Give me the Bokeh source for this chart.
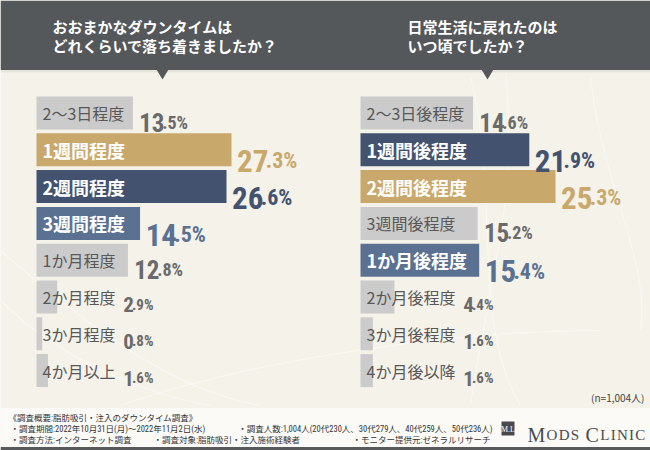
from bokeh.plotting import figure
from bokeh.models import ColumnDataSource, Range1d
from bokeh.core.properties import value
from bokeh.embed import file_html
from bokeh.resources import INLINE

# ---------------- data ----------------
left_title = ["おおまかなダウンタイムは", "どれくらいで落ち着きましたか？"]
left_categories = ["2～3日程度", "1週間程度", "2週間程度", "3週間程度",
                   "1か月程度", "2か月程度", "3か月程度", "4か月以上"]
left_values = [13.5, 27.3, 26.6, 14.5, 12.8, 2.9, 0.8, 1.6]

right_title = ["日常生活に戻れたのは", "いつ頃でしたか？"]
right_categories = ["2～3日後程度", "1週間後程度", "2週間後程度", "3週間後程度",
                    "1か月後程度", "2か月後程度", "3か月後程度", "4か月後以降"]
right_values = [14.6, 21.9, 25.3, 15.2, 15.4, 4.4, 1.6, 1.6]

sample_note = "(n=1,004人)"
survey_heading = "《調査概要:脂肪吸引・注入のダウンタイム調査》"
survey_row1 = ["・調査期間:2022年10月31日(月)～2022年11月2日(水)",
               "・調査人数:1,004人(20代230人、30代279人、40代259人、50代236人)"]
survey_row2 = ["・調査方法:インターネット調査",
               "・調査対象:脂肪吸引・注入施術経験者",
               "・モニター提供元:ゼネラルリサーチ"]
brand_mark = "M.L"
brand_letters = ["M", "O", "D", "S", " ", "C", "L", "I", "N", "I", "C"]

# ---------------- style ----------------
W, H = 650, 450
BG = "#f5f2ea"
FOOT_BG = "#fbfaf7"
HEADER = "#55585a"
GRAY_BAR = "#cbcbcb"
RANK_COLORS = ["#c9a86b", "#43536f", "#5a7191"]
GRAY_LABEL = "#585858"
GRAY_VALUE = "#6a6a6a"
JP = "Noto Sans CJK JP"
NUM = "Roboto Condensed, DejaVu Sans Condensed, Roboto"
SERIF = "Liberation Serif"

ROW0 = 112.5
ROW_STEP = 36.8
BAR_H = 33
MAX_BAR = 195

p = figure(width=W, height=H, x_range=Range1d(0, 650), y_range=Range1d(450, 0),
           output_backend="svg", toolbar_location=None, min_border=0,
           x_axis_location=None, y_axis_location=None)
p.grid.visible = False
p.outline_line_color = None
p.background_fill_color = BG
p.border_fill_color = BG

# decorative swirls in background
sw = ColumnDataSource(dict(
    x0=[0, 0, 120, 470, 505, 590],
    y0=[250, 300, 405, 75, 75, 75],
    x1=[260, 210, 600, 520, 470, 640],
    y1=[405, 405, 330, 405, 405, 330],
    cx0=[80, 60, 250, 500, 520, 600],
    cy0=[320, 360, 360, 200, 200, 180],
    cx1=[170, 150, 450, 470, 480, 650],
    cy1=[390, 395, 330, 320, 320, 260],
))
p.bezier(x0="x0", y0="y0", x1="x1", y1="y1", cx0="cx0", cy0="cy0", cx1="cx1", cy1="cy1",
         source=sw, line_color="white", line_alpha=0.45, line_width=1.2)

# header band and pointers
p.quad(left=[0], right=[650], top=[0], bottom=[69.5], fill_color=HEADER, line_color=None)
p.quad(left=[0], right=[650], top=[69.5], bottom=[72], fill_color="#000000", fill_alpha=0.06, line_color=None)
p.patches(xs=[[156, 168, 162], [481, 493, 487]], ys=[[69, 69, 79], [69, 69, 79]],
          fill_color=HEADER, line_color=None)

# footer band
p.quad(left=[0], right=[650], top=[407.5], bottom=[446.5], fill_color=FOOT_BG, line_color=None)
p.quad(left=[0], right=[650], top=[446.5], bottom=[450], fill_color="#58595b", line_color=None)


def text_width(s, size, ascii_ratio=0.55):
    return sum(size * (ascii_ratio if ord(c) < 128 else 1.0) for c in s)


def draw_panel(title, cats, vals, x0, title_x):
    n = len(cats)
    rows = [ROW0 + i * ROW_STEP for i in range(n)]
    order = sorted(range(n), key=lambda i: -vals[i])
    rank = {i: r for r, i in enumerate(order)}
    scale = MAX_BAR / max(vals)
    top = [rank[i] < 3 for i in range(n)]
    colors = [RANK_COLORS[rank[i]] if top[i] else GRAY_BAR for i in range(n)]
    rights = [x0 + v * scale for v in vals]
    p.hbar(y=rows, left=x0, right=rights, height=BAR_H, fill_color=colors, line_color=None)

    # title
    p.text(x=[title_x, title_x], y=[26, 45], text=title, text_font=value(JP),
           text_font_size="15px", text_font_style="bold", text_color="white",
           text_baseline="middle", text_align="left")

    # category labels
    lx = x0 + 6
    for flag, size, style, color in [(True, 18, "bold", "white"), (False, 16, "normal", GRAY_LABEL)]:
        idx = [i for i in range(n) if top[i] == flag]
        p.text(x=[lx] * len(idx), y=[rows[i] for i in idx], text=[cats[i] for i in idx],
               text_font=value(JP), text_font_size=f"{size}px", text_font_style=style,
               text_color=color, text_baseline="middle", text_align="left")

    # value labels: integer part large, ".d%" smaller, joined at a split point
    for i in range(n):
        lsize = 18 if top[i] else 16
        label_end = lx + text_width(cats[i], lsize)
        vx = max(rights[i], label_end) + 9
        if top[i]:
            f1, col = 31, colors[i]
        elif vals[i] >= 10:
            f1, col = 25, GRAY_VALUE
        else:
            f1, col = 21, GRAY_VALUE
        f2 = round(f1 * 0.72)
        ip, dp = f"{vals[i]:.1f}".split(".")
        base = rows[i] + 0.36 * f1
        split = vx + 0.45 * f1 * len(ip)
        p.text(x=[split], y=[base], text=[ip], text_font=value(NUM), text_font_size=f"{f1}px",
               text_font_style="bold", text_color=col, text_baseline="alphabetic", text_align="right")
        p.text(x=[split - 0.12 * f2], y=[base], text=[f".{dp}%"], text_font=value(NUM),
               text_font_size=f"{f2}px", text_font_style="bold", text_color=col,
               text_baseline="alphabetic", text_align="left")


draw_panel(left_title, left_categories, left_values, 36, 52)
draw_panel(right_title, right_categories, right_values, 360, 407)

# sample size note
p.text(x=[644], y=[397], text=[sample_note], text_font=value(JP), text_font_size="10px",
       text_color="#444444", text_baseline="middle", text_align="right")

# footer texts
FOOT_FONT = value(f"Roboto Condensed, {JP}")
p.text(x=[8], y=[417], text=[survey_heading], text_font=FOOT_FONT, text_font_size="8.5px",
       text_color="#333333", text_baseline="middle", text_align="left")
p.text(x=[10, 492], y=[428, 428], text=survey_row1, text_font=FOOT_FONT, text_font_size="8.5px",
       text_color="#333333", text_baseline="middle", text_align=["left", "right"])
p.text(x=[10, 153, 490], y=[439, 439, 439], text=survey_row2, text_font=FOOT_FONT, text_font_size="8.5px",
       text_color="#333333", text_baseline="middle", text_align=["left", "left", "right"])

# brand logo
p.quad(left=[501], right=[514], top=[421], bottom=[435], fill_color="#4a4a4c", line_color=None)
p.text(x=[507.5], y=[428.5], text=[brand_mark], text_font=value(SERIF), text_font_size="8px",
       text_color="white", text_baseline="middle", text_align="center")
CAP, SMALL, TRACK = 20, 15, 1.3
widths = {"M": 0.889, "O": 0.722, "D": 0.722, "S": 0.556, " ": 0.25, "C": 0.667,
          "L": 0.611, "I": 0.333, "N": 0.722}
bx, bs = [], []
cx = 527
prev = " "
for ch in brand_letters:
    size = CAP if prev == " " else SMALL
    bx.append(cx)
    bs.append(f"{size}px")
    cx += widths[ch] * size + TRACK
    prev = ch
p.text(x=bx, y=[434] * len(bx), text=brand_letters, text_font=value(SERIF), text_font_size=bs,
       text_color="#4a4a4c", text_baseline="alphabetic", text_align="left")

open("out.html", "w").write(file_html(p, INLINE))
